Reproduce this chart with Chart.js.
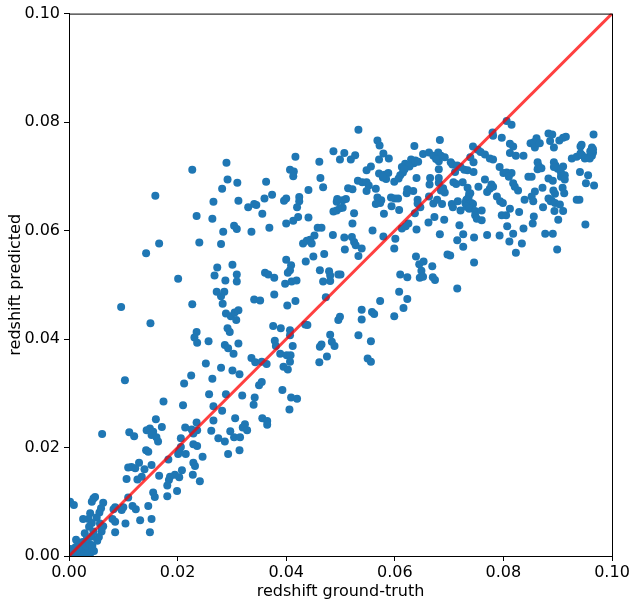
<!DOCTYPE html>
<html>
<head>
<meta charset="utf-8">
<script src="https://cdn.jsdelivr.net/npm/chart.js@4.4.0/dist/chart.umd.min.js"></script>
<style>
  html, body { margin: 0; padding: 0; background: #ffffff; }
</style>
</head>
<body>
<canvas id="chart" width="637" height="604"></canvas>
<script>
const samples = [
  // upper left
  [0.0159,0.0664],[0.0227,0.0712],[0.0290,0.0725],[0.0292,0.0694],[0.0282,0.0677],[0.0266,0.0653],[0.0310,0.0688],[0.0312,0.0655],
  [0.0330,0.0643],[0.0341,0.0649],[0.0345,0.0647],[0.0360,0.0659],[0.0363,0.0690],[0.0374,0.0666],[0.0396,0.0655],[0.0400,0.0659],
  [0.0417,0.0736],[0.0407,0.0712],[0.0414,0.0709],[0.0413,0.0700],[0.0424,0.0662],[0.0424,0.0654],[0.0420,0.0643],[0.0441,0.0675],
  [0.0461,0.0727],[0.0463,0.0697],[0.0468,0.0680],
  [0.0356,0.0631],[0.0493,0.0653],[0.0235,0.0627],[0.0264,0.0622],[0.0304,0.0609],[0.0309,0.0603],[0.0284,0.0598],[0.0336,0.0598],
  [0.0369,0.0605],[0.0400,0.0613],[0.0413,0.0618],[0.0422,0.0625],[0.0441,0.0624],[0.0458,0.0605],[0.0452,0.0591],[0.0486,0.0592],
  [0.0166,0.0576],[0.0142,0.0558],[0.0240,0.0578],[0.0280,0.0575],[0.0431,0.0576],[0.0438,0.0581],[0.0444,0.0583],[0.0447,0.0576],
  [0.0450,0.0552],[0.0470,0.0557],[0.0436,0.0543],[0.0400,0.0546],[0.0409,0.0536],[0.0407,0.0527],[0.0403,0.0522],
  [0.0398,0.0502],[0.0410,0.0506],[0.0419,0.0508],[0.0301,0.0537],[0.0273,0.0532],[0.0268,0.0517],[0.0309,0.0519],[0.0309,0.0506],
  [0.0288,0.0508],[0.0201,0.0511],[0.0361,0.0522],[0.0367,0.0519],[0.0378,0.0513],[0.0462,0.0527],[0.0479,0.0525],[0.0481,0.0517],
  [0.0468,0.0506],[0.0481,0.0507],[0.0496,0.0519],
  [0.0272,0.0487],[0.0280,0.0479],[0.0286,0.0487],[0.0283,0.0465],[0.0227,0.0464],[0.0341,0.0473],[0.0352,0.0471],[0.0378,0.0482],
  [0.0417,0.0470],[0.0402,0.0462],[0.0473,0.0477],[0.0096,0.0459],
  // middle band
  [0.0150,0.0429],[0.0289,0.0447],[0.0298,0.0442],[0.0305,0.0449],[0.0312,0.0453],[0.0308,0.0435],[0.0292,0.0420],[0.0296,0.0413],
  [0.0235,0.0413],[0.0231,0.0403],[0.0236,0.0393],[0.0257,0.0396],[0.0287,0.0389],[0.0293,0.0383],[0.0312,0.0392],[0.0303,0.0373],
  [0.0376,0.0424],[0.0390,0.0420],[0.0407,0.0416],[0.0407,0.0407],[0.0435,0.0427],[0.0439,0.0426],[0.0481,0.0408],[0.0496,0.0435],
  [0.0499,0.0441],[0.0379,0.0397],[0.0381,0.0387],[0.0412,0.0387],[0.0389,0.0373],[0.0401,0.0370],[0.0408,0.0370],[0.0407,0.0358],
  [0.0462,0.0386],[0.0465,0.0390],[0.0484,0.0395],[0.0489,0.0387],[0.0475,0.0368],[0.0461,0.0357],[0.0336,0.0365],[0.0343,0.0357],
  [0.0355,0.0358],[0.0364,0.0354],[0.0395,0.0349],[0.0403,0.0344],[0.0252,0.0355],[0.0280,0.0347],[0.0301,0.0342],[0.0314,0.0335],
  [0.0225,0.0333],[0.0264,0.0327],[0.0212,0.0318],[0.0350,0.0315],[0.0355,0.0321],[0.0393,0.0306],
  [0.0319,0.0296],[0.0342,0.0292],[0.0340,0.0279],[0.0409,0.0292],[0.0420,0.0290],[0.0406,0.0270],[0.0306,0.0254],[0.0324,0.0243],
  [0.0320,0.0237],[0.0328,0.0232],[0.0297,0.0230],[0.0356,0.0254],[0.0365,0.0249],[0.0365,0.0242],[0.0304,0.0219],[0.0315,0.0219],
  [0.0314,0.0195],
  // centre right
  [0.0533,0.0786],[0.0568,0.0766],[0.0572,0.0757],[0.0487,0.0746],[0.0507,0.0743],[0.0499,0.0731],[0.0519,0.0731],[0.0527,0.0739],
  [0.0579,0.0742],[0.0571,0.0731],[0.0589,0.0733],[0.0636,0.0756],[0.0683,0.0767],
  [0.0619,0.0723],[0.0630,0.0731],[0.0635,0.0724],[0.0638,0.0729],[0.0627,0.0718],[0.0643,0.0727],
  [0.0652,0.0741],[0.0663,0.0744],[0.0671,0.0738],[0.0680,0.0744],[0.0685,0.0738],[0.0692,0.0735],[0.0681,0.0728],[0.0676,0.0732],
  [0.0703,0.0726],[0.0706,0.0722],[0.0715,0.0720],[0.0721,0.0717],[0.0728,0.0712],[0.0734,0.0711],[0.0739,0.0735],[0.0711,0.0708],
  [0.0681,0.0713],[0.0548,0.0711],[0.0556,0.0718],
  [0.0532,0.0692],[0.0540,0.0689],[0.0548,0.0689],[0.0552,0.0683],[0.0548,0.0673],[0.0514,0.0678],[0.0522,0.0676],
  [0.0571,0.0705],[0.0581,0.0703],[0.0588,0.0706],[0.0584,0.0695],[0.0578,0.0698],[0.0565,0.0677],
  [0.0599,0.0690],[0.0607,0.0696],[0.0610,0.0702],[0.0615,0.0707],[0.0613,0.0717],[0.0618,0.0713],
  [0.0623,0.0676],[0.0622,0.0669],[0.0634,0.0673],[0.0640,0.0697],
  [0.0665,0.0697],[0.0681,0.0688],[0.0681,0.0697],[0.0689,0.0678],[0.0692,0.0670],[0.0685,0.0674],[0.0664,0.0685],
  [0.0708,0.0689],[0.0713,0.0686],[0.0725,0.0689],[0.0734,0.0679],[0.0739,0.0669],
  [0.0568,0.0661],[0.0575,0.0656],[0.0573,0.0651],[0.0565,0.0649],[0.0593,0.0661],[0.0600,0.0659],[0.0606,0.0659],[0.0594,0.0645],
  [0.0608,0.0638],[0.0580,0.0631],[0.0642,0.0657],[0.0642,0.0650],[0.0647,0.0643],[0.0637,0.0632],
  [0.0663,0.0663],[0.0671,0.0650],[0.0678,0.0657],[0.0687,0.0649],[0.0705,0.0649],[0.0707,0.0643],[0.0716,0.0654],[0.0721,0.0637],
  [0.0732,0.0656],[0.0737,0.0647],
  [0.0673,0.0625],[0.0691,0.0620],[0.0662,0.0615],[0.0625,0.0613],[0.0613,0.0604],[0.0620,0.0608],[0.0640,0.0602],[0.0683,0.0593],
  [0.0719,0.0610],[0.0726,0.0593],[0.0715,0.0582],[0.0726,0.0570],[0.0697,0.0556],[0.0702,0.0554],
  [0.0494,0.0658],[0.0504,0.0656],[0.0510,0.0658],[0.0487,0.0635],[0.0493,0.0637],[0.0499,0.0641],[0.0504,0.0642],[0.0525,0.0632],
  [0.0522,0.0613],[0.0465,0.0605],
  [0.0559,0.0600],[0.0579,0.0589],[0.0507,0.0587],[0.0521,0.0588],[0.0525,0.0579],[0.0528,0.0573],[0.0539,0.0567],[0.0533,0.0553],
  [0.0508,0.0565],
  [0.0601,0.0585],[0.0599,0.0567],[0.0639,0.0552],[0.0645,0.0538],[0.0653,0.0543],[0.0649,0.0526],[0.0646,0.0513],[0.0652,0.0515],
  [0.0669,0.0534],[0.0670,0.0514],[0.0674,0.0509],[0.0610,0.0519],[0.0623,0.0514],[0.0608,0.0487],[0.0623,0.0474],[0.0616,0.0457],
  [0.0599,0.0442],[0.0715,0.0493],[0.0573,0.0470],
  [0.0539,0.0454],[0.0558,0.0450],[0.0562,0.0446],[0.0539,0.0436],[0.0500,0.0519],[0.0533,0.0407],[0.0556,0.0396],[0.0550,0.0364],
  [0.0556,0.0358],
  // far right
  [0.0806,0.0802],[0.0815,0.0795],[0.0780,0.0781],[0.0781,0.0775],[0.0797,0.0771],[0.0744,0.0755],[0.0753,0.0749],[0.0758,0.0745],
  [0.0766,0.0740],[0.0775,0.0733],[0.0745,0.0726],[0.0745,0.0708],[0.0781,0.0731],[0.0793,0.0717],[0.0812,0.0760],[0.0818,0.0755],
  [0.0812,0.0743],[0.0823,0.0738],[0.0837,0.0738],
  [0.0800,0.0706],[0.0806,0.0707],[0.0815,0.0706],[0.0810,0.0699],
  [0.0850,0.0761],[0.0856,0.0763],[0.0861,0.0770],[0.0858,0.0753],[0.0867,0.0761],[0.0883,0.0779],[0.0886,0.0765],[0.0890,0.0777],
  [0.0893,0.0753],[0.0863,0.0726],[0.0865,0.0719],[0.0863,0.0713],[0.0870,0.0715],
  [0.0903,0.0766],[0.0910,0.0771],[0.0915,0.0773],
  [0.0893,0.0726],[0.0896,0.0720],[0.0900,0.0714],[0.0906,0.0707],[0.0893,0.0717],[0.0910,0.0718],[0.0906,0.0699],[0.0913,0.0702],
  [0.0913,0.0694],
  [0.0926,0.0733],[0.0935,0.0736],[0.0942,0.0742],[0.0945,0.0739],[0.0950,0.0733],[0.0956,0.0735],[0.0963,0.0738],[0.0965,0.0744],
  [0.0959,0.0733],[0.0942,0.0755],[0.0944,0.0758],[0.0963,0.0753],[0.0960,0.0746],[0.0965,0.0750],[0.0966,0.0777],
  [0.0941,0.0708],[0.0956,0.0702],[0.0952,0.0687],[0.0967,0.0683],[0.0935,0.0657],[0.0940,0.0657],[0.0951,0.0611],
  [0.0846,0.0699],[0.0852,0.0699],[0.0818,0.0687],[0.0827,0.0674],[0.0821,0.0681],[0.0883,0.0696],[0.0891,0.0692],[0.0872,0.0679],
  [0.0858,0.0672],[0.0892,0.0674],[0.0895,0.0668],[0.0909,0.0679],[0.0912,0.0669],
  [0.0839,0.0657],[0.0852,0.0663],[0.0855,0.0654],[0.0883,0.0659],[0.0887,0.0654],[0.0889,0.0655],[0.0895,0.0651],[0.0904,0.0648],
  [0.0894,0.0636],[0.0910,0.0636],[0.0873,0.0643],[0.0901,0.0620],[0.0856,0.0626],[0.0854,0.0613],[0.0837,0.0604],[0.0877,0.0594],
  [0.0891,0.0594],[0.0899,0.0565],
  [0.0812,0.0640],[0.0829,0.0634],[0.0807,0.0608],[0.0818,0.0594],[0.0811,0.0580],[0.0834,0.0576],[0.0823,0.0559],[0.0793,0.0591],
  [0.0770,0.0592],[0.0797,0.0628],[0.0805,0.0628],[0.0794,0.0654],[0.0799,0.0651],[0.0788,0.0663],[0.0778,0.0685],[0.0781,0.0681],
  [0.0775,0.0677],[0.0766,0.0694],[0.0754,0.0681],[0.0770,0.0671],
  [0.0737,0.0668],[0.0736,0.0662],[0.0732,0.0657],[0.0730,0.0651],[0.0737,0.0649],[0.0741,0.0651],[0.0744,0.0649],[0.0732,0.0644],
  [0.0737,0.0640],[0.0748,0.0636],[0.0760,0.0637],[0.0748,0.0628],[0.0751,0.0622],[0.0760,0.0619],[0.0746,0.0587],[0.0746,0.0541],
  // lower left
  [0.0103,0.0324],[0.0258,0.0298],[0.0289,0.0298],[0.0174,0.0285],[0.0210,0.0278],[0.0266,0.0276],[0.0282,0.0268],[0.0266,0.0250],
  [0.0160,0.0252],[0.0171,0.0238],[0.0143,0.0232],[0.0149,0.0235],[0.0155,0.0229],[0.0152,0.0223],[0.0161,0.0219],[0.0164,0.0211],
  [0.0061,0.0225],[0.0111,0.0228],[0.0120,0.0221],[0.0214,0.0237],[0.0226,0.0233],[0.0235,0.0246],[0.0236,0.0232],[0.0229,0.0226],
  [0.0206,0.0217],[0.0262,0.0231],[0.0275,0.0217],[0.0287,0.0211],[0.0293,0.0188],[0.0229,0.0206],[0.0236,0.0203],[0.0206,0.0201],
  [0.0203,0.0194],[0.0201,0.0188],[0.0215,0.0188],[0.0246,0.0183],[0.0229,0.0172],[0.0232,0.0166],[0.0208,0.0158],[0.0241,0.0138],
  [0.0228,0.0150],[0.0183,0.0178],[0.0142,0.0195],[0.0146,0.0192],[0.0129,0.0172],[0.0122,0.0162],[0.0115,0.0164],[0.0109,0.0163],
  [0.0139,0.0160],[0.0152,0.0168],[0.0134,0.0146],[0.0126,0.0141],[0.0106,0.0142],[0.0166,0.0148],[0.0195,0.0150],[0.0186,0.0146],
  [0.0184,0.0140],[0.0203,0.0145],[0.0181,0.0130],[0.0199,0.0120],[0.0181,0.0110],[0.0155,0.0117],[0.0158,0.0109],[0.0109,0.0108],
  [0.0146,0.0092],[0.0152,0.0068],[0.0149,0.0044],[0.0131,0.0066],[0.0104,0.0060],[0.0123,0.0086],[0.0117,0.0092],[0.0100,0.0090],
  [0.0097,0.0085],[0.0085,0.0090],[0.0082,0.0086],[0.0085,0.0044],[0.0080,0.0068],[0.0085,0.0063],[0.0063,0.0055],[0.0060,0.0045],
  [0.0002,0.0100],[0.0009,0.0094],[0.0045,0.0106],[0.0048,0.0109],[0.0042,0.0100],[0.0063,0.0098],[0.0059,0.0088],[0.0056,0.0080],
  [0.0051,0.0071],[0.0039,0.0079],[0.0036,0.0068],[0.0026,0.0068],[0.0042,0.0061],[0.0037,0.0054],[0.0057,0.0060],[0.0060,0.0051],
  [0.0045,0.0045],[0.0029,0.0042],[0.0042,0.0036],[0.0017,0.0024],
  [0.0003,0.0013],[0.0008,0.0009],[0.0012,0.0016],[0.0018,0.0005],[0.0023,0.0011],[0.0028,0.0003],[0.0032,0.0008],[0.0036,0.0014],
  [0.0040,0.0006],[0.0005,0.0003],[0.0015,0.0002],[0.0020,0.0018],[0.0030,0.0020],[0.0025,0.0026],[0.0038,0.0022],[0.0043,0.0019],
  [0.0002,0.0006],[0.0010,0.0001],[0.0026,0.0000],[0.0034,0.0002],[0.0046,0.0009],[0.0013,0.0030],[0.0033,0.0032],[0.0052,0.0028],
  [0.0055,0.0035]
];

const identityLine = [0, 0.1];
const tickValues = [0, 0.02, 0.04, 0.06, 0.08, 0.1];

const font = { family: 'DejaVu Sans', size: 16 };

// draw the top and right spines too
const frame = {
  id: 'frame',
  afterDraw(chart) {
    const { ctx, chartArea: a } = chart;
    ctx.save();
    ctx.strokeStyle = '#000';
    ctx.lineWidth = 1;
    ctx.strokeRect(a.left + 0.5, a.top + 0.5, a.right - a.left, a.bottom - a.top);
    ctx.restore();
  }
};

function axis(label, isX) {
  return {
    type: 'linear',
    min: tickValues[0],
    max: tickValues[tickValues.length - 1],
    afterBuildTicks: s => { s.ticks = tickValues.map(v => ({ value: v })); },
    afterFit: s => { if (isX) s.height = 48; else s.width = 69; },
    ticks: {
      font: font,
      color: '#000',
      padding: isX ? 2 : 4,
      maxRotation: 0,
      callback: v => v.toFixed(2)
    },
    grid: { drawOnChartArea: false, tickLength: 5, color: '#000' },
    border: { display: true, color: '#000' },
    title: { display: true, text: label, font: font, color: '#000', padding: isX ? 3 : 6 }
  };
}

new Chart(document.getElementById('chart').getContext('2d'), {
  type: 'scatter',
  data: {
    datasets: [
      {
        data: samples.map(p => ({ x: p[0], y: p[1] })),
        backgroundColor: '#1f77b4',
        borderWidth: 0,
        pointRadius: 4,
        order: 1
      },
      {
        type: 'line',
        data: identityLine.map(v => ({ x: v, y: v })),
        borderColor: 'rgba(255, 0, 0, 0.75)',
        borderWidth: 3,
        pointRadius: 0,
        order: 0
      }
    ]
  },
  options: {
    responsive: false,
    animation: false,
    layout: { padding: { left: 0, right: 25, top: 13, bottom: 0 } },
    plugins: { legend: { display: false }, tooltip: { enabled: false } },
    scales: {
      x: axis('redshift ground-truth', true),
      y: axis('redshift predicted', false)
    }
  },
  plugins: [frame]
});
</script>
</body>
</html>
